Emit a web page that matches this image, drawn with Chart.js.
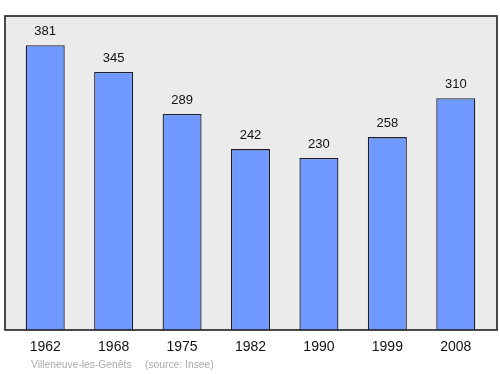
<!DOCTYPE html>
<html>
<head>
<meta charset="utf-8">
<script src="https://cdn.jsdelivr.net/npm/chart.js@4"></script>
<style>
  html, body { margin: 0; padding: 0; background: #fff; }
  #wrap { width: 500px; height: 374px; }
</style>
</head>
<body>
<div id="wrap"><canvas id="chart" width="500" height="374"></canvas></div>
<script>
const years = ["1962", "1968", "1975", "1982", "1990", "1999", "2008"];
const population = [381, 345, 289, 242, 230, 258, 310];
const townName = "Villeneuve-les-Genêts";
const sourceText = "(source: Insee)";

// background box, value labels, year labels and credits
const decorations = {
  id: "decorations",
  beforeDatasetsDraw(chart) {
    const { ctx, chartArea } = chart;
    ctx.save();
    ctx.fillStyle = "#ebebeb";
    ctx.fillRect(5, chartArea.top, 492, chartArea.bottom - chartArea.top);
    ctx.restore();
  },
  afterDatasetsDraw(chart) {
    const { ctx, chartArea } = chart;
    const meta = chart.getDatasetMeta(0);
    ctx.save();
    ctx.strokeStyle = "#1e1e1e";
    ctx.lineWidth = 1.6;
    ctx.strokeRect(5, chartArea.top, 492, chartArea.bottom - chartArea.top);

    ctx.fillStyle = "#111";
    ctx.textAlign = "center";
    ctx.textBaseline = "middle";
    ctx.font = "13px 'Liberation Sans', Arial, sans-serif";
    meta.data.forEach((bar, i) => {
      ctx.fillText(String(population[i]), bar.x, bar.y - 14);
    });

    ctx.font = "14px 'Liberation Sans', Arial, sans-serif";
    meta.data.forEach((bar, i) => {
      ctx.fillText(years[i], bar.x, 347);
    });

    ctx.fillStyle = "#aaa";
    ctx.textAlign = "left";
    ctx.font = "10.3px 'Liberation Sans', Arial, sans-serif";
    ctx.fillText(townName, 31, 365);
    ctx.fillText(sourceText, 145, 365);
    ctx.restore();
  }
};

new Chart(document.getElementById("chart"), {
  type: "bar",
  plugins: [decorations],
  data: {
    labels: years,
    datasets: [{
      data: population,
      backgroundColor: "#7099ff",
      borderColor: "#1c1c2a",
      borderWidth: 1.3,
      barPercentage: 0.57,
      categoryPercentage: 1
    }]
  },
  options: {
    responsive: false,
    animation: false,
    layout: { padding: { left: 11, right: 10, top: 16, bottom: 44 } },
    plugins: { legend: { display: false }, tooltip: { enabled: false } },
    scales: {
      x: { display: false },
      y: { display: false, min: 0, max: 420 }
    }
  }
});
</script>
</body>
</html>
